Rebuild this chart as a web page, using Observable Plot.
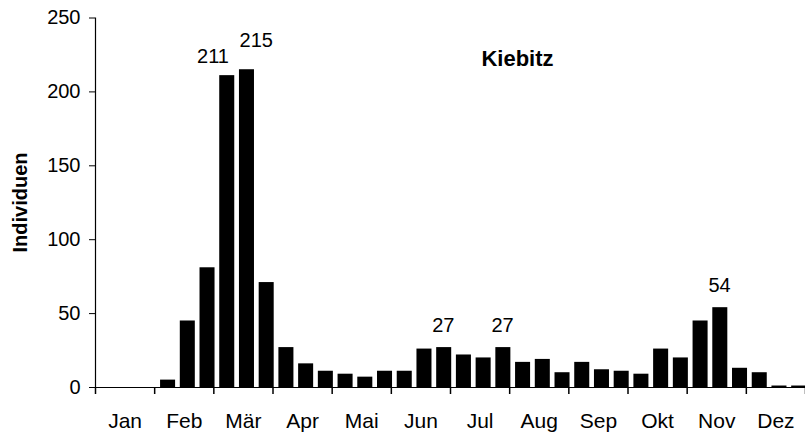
<!DOCTYPE html>
<html>
<head>
<meta charset="utf-8">
<script src="https://cdn.jsdelivr.net/npm/d3@7"></script>
<script src="https://cdn.jsdelivr.net/npm/@observablehq/plot@0.6"></script>
<style>
  html, body { margin: 0; padding: 0; background: #fff; overflow: hidden; }
  #chart svg { display: block; }
</style>
</head>
<body>
<div id="chart"></div>
<script>
// Data (3 periods per month)
const months = ["Jan", "Feb", "Mär", "Apr", "Mai", "Jun", "Jul", "Aug", "Sep", "Okt", "Nov", "Dez"];
const values = [
  0, 0, 0,       // Jan
  5, 45, 81,     // Feb
  211, 215, 71,  // Mär
  27, 16, 11,    // Apr
  9, 7, 11,      // Mai
  11, 26, 27,    // Jun
  22, 20, 27,    // Jul
  17, 19, 10,    // Aug
  17, 12, 11,    // Sep
  9, 26, 20,     // Okt
  45, 54, 13,    // Nov
  10, 1, 1       // Dez
];
const yTicks = [0, 50, 100, 150, 200, 250];
const labelIndices = [6, 7, 17, 20, 31];
const seriesTitle = "Kiebitz";
const yLabel = "Individuen";

const data = values.map((v, i) => ({i, value: v}));
const boundaries = d3.range(0, months.length * 3 + 1, 3);
const centers = months.map((m, k) => k * 3 + 1.5);

// label offsets (style/position only)
const labelOffsets = [[-10.7, -19.5], [12.8, -29], [2.7, -22], [2.7, -22], [2.8, -22]];

const font = "'Liberation Sans', Arial, Helvetica, sans-serif";

const chart = Plot.plot({
  width: 805,
  height: 435,
  marginLeft: 95,
  marginRight: 0,
  marginTop: 17,
  marginBottom: 48,
  style: {fontFamily: font, fontSize: "20px", color: "black", background: "white"},
  x: {type: "linear", domain: [0, 36], range: [95, 805]},
  y: {domain: [0, 250], range: [387, 17.5]},
  marks: [
    Plot.rectY(data, {x1: d => d.i, x2: d => d.i + 1, y: "value", fill: "black", insetLeft: 5.9, insetRight: -1.2}),
    Plot.ruleY([0], {stroke: "black", strokeWidth: 1.2}),
    Plot.ruleX([0], {y1: 0, y2: 250, stroke: "black", strokeWidth: 1.2}),
    Plot.axisY({ticks: yTicks, tickSize: 6, tickPadding: 9, label: null, fontSize: 20, stroke: "black"}),
    Plot.axisX({ticks: boundaries, tickSize: 7, tickFormat: () => "", label: null, strokeWidth: 1.5, stroke: "black"}),
    Plot.axisX({ticks: centers, tickSize: 0, tickPadding: 26, tickFormat: d => months[Math.round((d - 1.5) / 3)], label: null, fontSize: 21}),
    ...labelIndices.map((idx, k) => Plot.text([data[idx]], {
      x: d => d.i + 0.5, y: "value", text: d => String(d.value),
      dx: labelOffsets[k][0], dy: labelOffsets[k][1], fontSize: 20, fill: "black"
    })),
    Plot.text([seriesTitle], {frameAnchor: "top-left", dx: 422, dy: 33, textAnchor: "middle", lineAnchor: "top", fontWeight: "bold", fontSize: 22, fill: "black"}),
    Plot.text([yLabel], {frameAnchor: "left", dx: -75, rotate: -90, textAnchor: "middle", fontWeight: "bold", fontSize: 20, fill: "black"})
  ]
});

document.getElementById("chart").appendChild(chart);
</script>
</body>
</html>
